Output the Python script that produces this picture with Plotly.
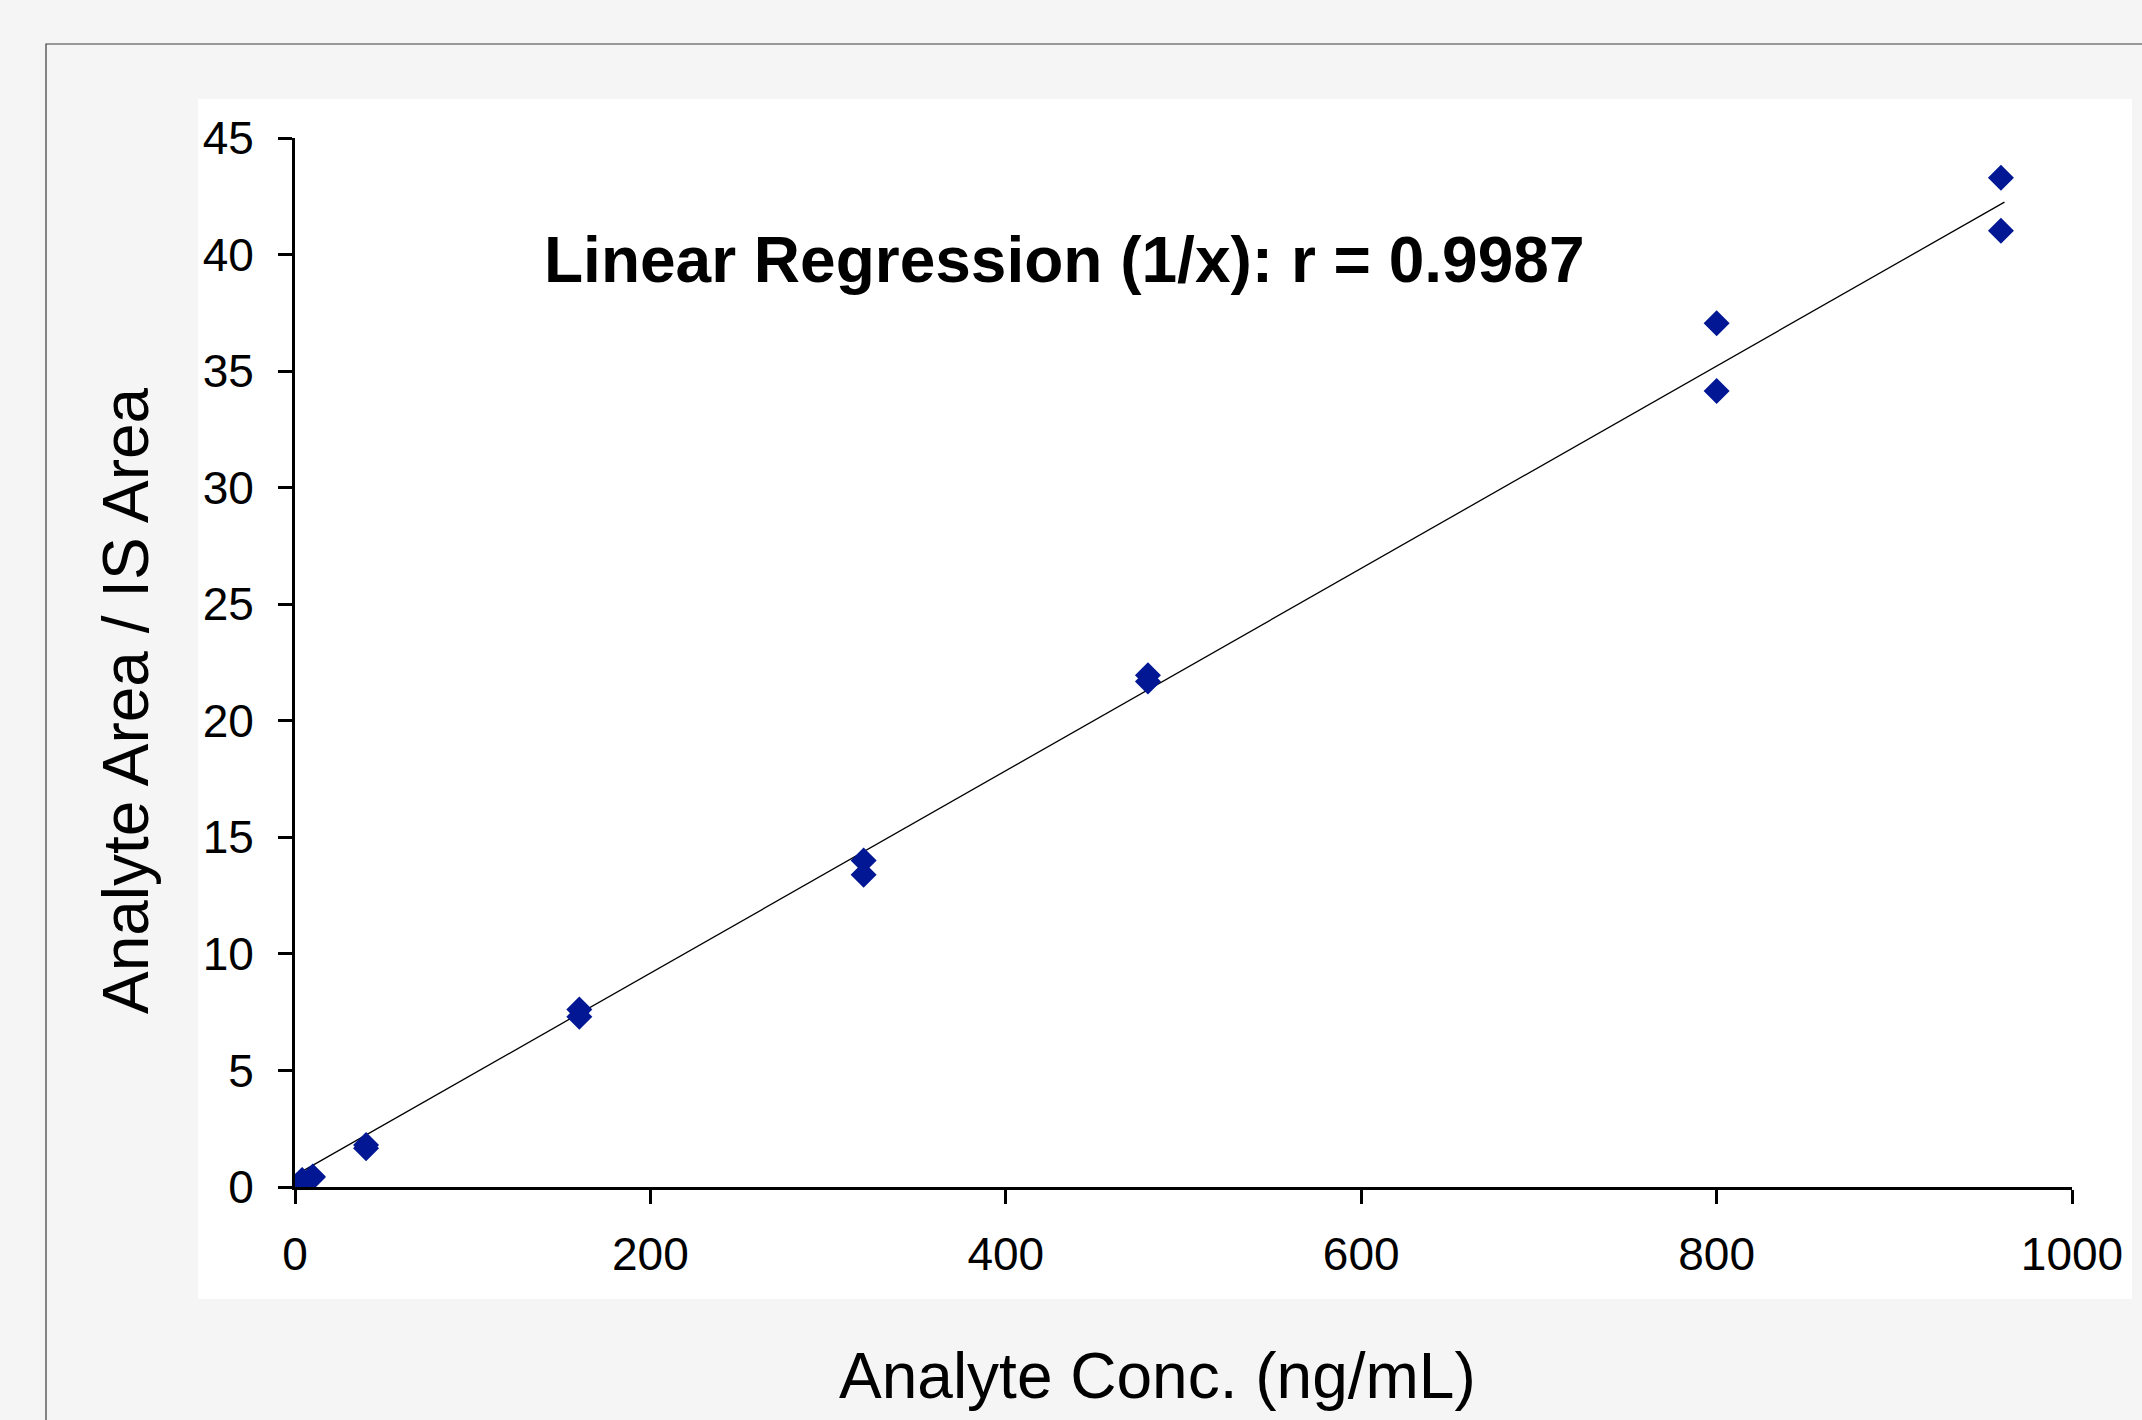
import plotly.graph_objects as go

# Data
conc = [4, 4, 10, 10, 40, 40, 160, 160, 320, 320, 480, 480, 800, 800, 960, 960]
ratio = [0.27, 0.30, 0.42, 0.45, 1.80, 1.66, 7.61, 7.30, 14.01, 13.39, 21.95, 21.69, 37.05, 34.15, 43.30, 41.02]

fit_x = [4, 962]
fit_y = [0.67, 42.25]

x_ticks = [0, 200, 400, 600, 800, 1000]
y_ticks = [0, 5, 10, 15, 20, 25, 30, 35, 40, 45]

title_text = "Linear Regression (1/x): r = 0.9987"
x_title = "Analyte Conc. (ng/mL)"
y_title = "Analyte Area / IS Area"

W, H = 2142, 1420
L, R, T, B = 295, 70, 138, 233
pw, ph = W - L - R, H - T - B


def px(p):
    return (p - L) / pw


def py(p):
    return (H - B - p) / ph


FONT = "Liberation Sans, Arial, sans-serif"

fig = go.Figure()
fig.add_trace(go.Scatter(x=fit_x, y=fit_y, mode="lines",
                         line=dict(color="black", width=1.3),
                         showlegend=False, hoverinfo="skip"))
fig.add_trace(go.Scatter(x=conc, y=ratio, mode="markers",
                         marker=dict(symbol="diamond", size=20, color="#021794",
                                     line=dict(width=0)),
                         showlegend=False))

fig.update_layout(
    width=W, height=H,
    margin=dict(l=L, r=R, t=T, b=B, pad=0),
    paper_bgcolor="#f5f5f5",
    plot_bgcolor="white",
    font=dict(family=FONT, color="black"),
    shapes=[
        dict(type="rect", xref="paper", yref="paper", layer="below",
             x0=px(46), x1=px(2300), y0=py(1600), y1=py(44),
             line=dict(color="#3a3a3a", width=1.2), fillcolor="#f5f5f5"),
        dict(type="rect", xref="paper", yref="paper", layer="below",
             x0=px(198), x1=px(2132), y0=py(1299), y1=py(99),
             line=dict(width=0), fillcolor="white"),
    ],
    annotations=[
        dict(text="<b>" + title_text + "</b>", xref="paper", yref="paper",
             x=px(1064), y=py(260), xanchor="center", yanchor="middle",
             showarrow=False, font=dict(size=64, family=FONT, color="black")),
        dict(text=x_title, xref="paper", yref="paper",
             x=px(1157), y=py(1376), xanchor="center", yanchor="middle",
             showarrow=False, font=dict(size=64, family=FONT, color="black")),
        dict(text=y_title, xref="paper", yref="paper", textangle=-90,
             x=px(126), y=py(701), xanchor="center", yanchor="middle",
             showarrow=False, font=dict(size=64, family=FONT, color="black")),
    ],
)

fig.update_xaxes(range=[0, 1000], tickvals=x_ticks, ticktext=[str(v) for v in x_ticks],
                 showline=True, linecolor="black", linewidth=3,
                 ticks="outside", ticklen=14, tickwidth=3, tickcolor="black",
                 showgrid=False, zeroline=False, ticklabelstandoff=11,
                 tickfont=dict(size=46, family=FONT, color="black"))
fig.update_yaxes(range=[0, 45], tickvals=y_ticks, ticktext=[str(v) for v in y_ticks],
                 showline=True, linecolor="black", linewidth=3,
                 ticks="outside", ticklen=14, tickwidth=3, tickcolor="black",
                 showgrid=False, zeroline=False, ticklabelstandoff=15,
                 tickfont=dict(size=46, family=FONT, color="black"))

fig.write_html("out.html")
